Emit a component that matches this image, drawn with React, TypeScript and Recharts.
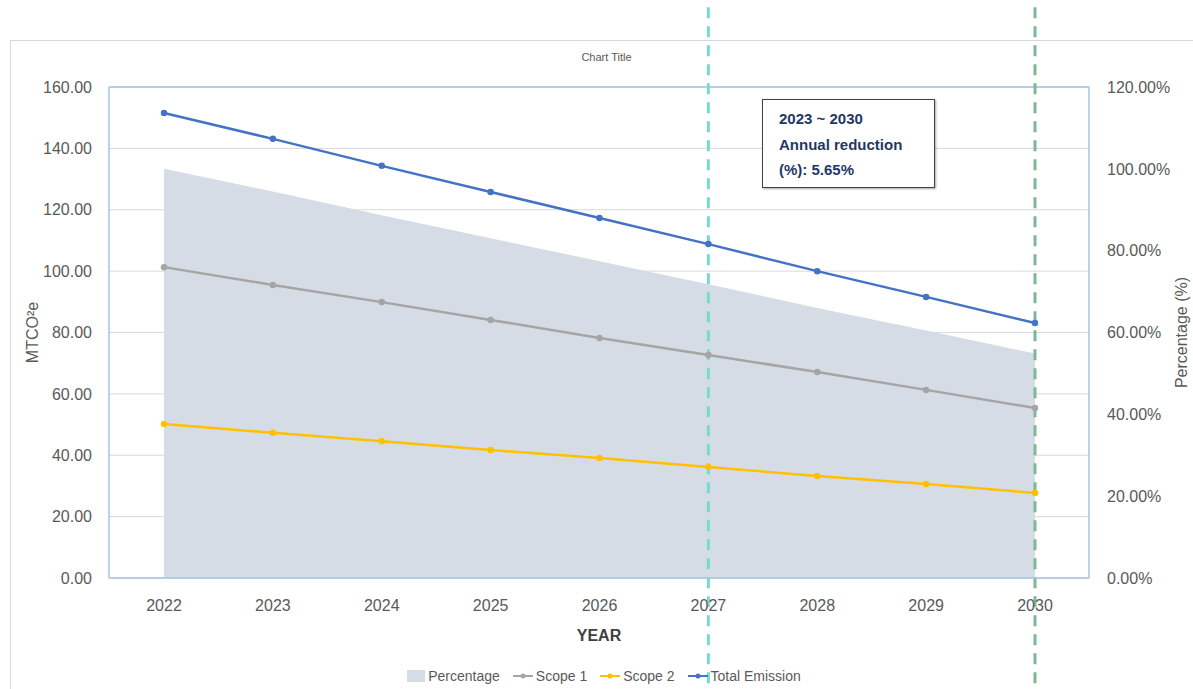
import React from 'react';
import {
  ComposedChart,
  Line,
  Area,
  XAxis,
  YAxis,
  CartesianGrid,
  ReferenceLine,
  Legend,
} from 'recharts';

const years = ['2022', '2023', '2024', '2025', '2026', '2027', '2028', '2029', '2030'];
const totalEmission = [151.5, 143.1, 134.3, 125.8, 117.3, 108.8, 100.0, 91.6, 83.1];
const scope1 = [101.3, 95.5, 89.9, 84.1, 78.2, 72.7, 67.1, 61.3, 55.4];
const scope2 = [50.2, 47.3, 44.6, 41.7, 39.1, 36.2, 33.2, 30.6, 27.7];
const percentage = [1.0, 0.9446, 0.8865, 0.8304, 0.7743, 0.7182, 0.6601, 0.6046, 0.5485];
const leftTicks = [0, 20, 40, 60, 80, 100, 120, 140, 160];
const rightTicks = [0, 0.2, 0.4, 0.6, 0.8, 1.0, 1.2];
const markerYears = ['2027', '2030'];
const annotationLines = ['2023 ~ 2030', 'Annual reduction', '(%): 5.65%'];

const data = years.map((y, i) => ({
  year: y,
  total: totalEmission[i],
  scope1: scope1[i],
  scope2: scope2[i],
  pct: percentage[i],
}));

const FONT = '"Liberation Sans", Arial, sans-serif';
const TEXT = '#595959';
const BLUE_AXIS = '#a3c4e6';

const legendItems = [
  { name: 'Percentage', color: '#d6dce5', type: 'area' },
  { name: 'Scope 1', color: '#a5a5a5', type: 'line' },
  { name: 'Scope 2', color: '#ffc000', type: 'line' },
  { name: 'Total Emission', color: '#4472c4', type: 'line' },
];

const LegendContent = () => (
  <div
    style={{
      display: 'flex',
      justifyContent: 'center',
      alignItems: 'center',
      gap: 8,
      fontFamily: FONT,
      fontSize: 14,
      color: TEXT,
      paddingLeft: 18,
      paddingTop: 4,
    }}
  >
    {legendItems.map((it) => (
      <div key={it.name} style={{ display: 'flex', alignItems: 'center', marginRight: 4 }}>
        {it.type === 'area' ? (
          <svg width={20} height={14} style={{ marginRight: 2 }}>
            <rect x={1} y={1} width={18} height={12} fill={it.color} />
          </svg>
        ) : (
          <svg width={22} height={14} style={{ marginRight: 2 }}>
            <line x1={1} y1={7} x2={21} y2={7} stroke={it.color} strokeWidth={2} />
            <circle cx={11} cy={7} r={2.5} fill={it.color} />
          </svg>
        )}
        <span>{it.name}</span>
      </div>
    ))}
  </div>
);

export default function App() {
  return (
    <div
      style={{
        position: 'absolute',
        left: 0,
        top: 0,
        width: 1193,
        height: 689,
        overflow: 'hidden',
        background: '#ffffff',
        fontFamily: FONT,
      }}
    >
      <div
        style={{
          position: 'absolute',
          left: 10,
          top: 40,
          width: 1200,
          height: 700,
          border: '1px solid #d9d9d9',
          boxSizing: 'border-box',
        }}
      />
      <div
        style={{
          position: 'absolute',
          left: 0,
          top: 51,
          width: 1213,
          textAlign: 'center',
          fontSize: 11,
          color: TEXT,
        }}
      >
        Chart Title
      </div>
      <div style={{ position: 'absolute', left: 0, top: 0 }}>
        <ComposedChart
          width={1193}
          height={689}
          data={data}
          margin={{ top: 87, right: 0, bottom: 3, left: 0 }}
        >
          <CartesianGrid vertical={false} stroke="#d9d9d9" yAxisId="left" />
          <XAxis
            dataKey="year"
            height={86}
            padding={{ left: 55, right: 54 }}
            tickLine={false}
            axisLine={{ stroke: BLUE_AXIS, strokeWidth: 1.5 }}
            tick={{ fill: TEXT, fontSize: 16, fontFamily: FONT }}
            tickMargin={16}
            label={{
              value: 'YEAR',
              position: 'insideBottom',
              offset: 23,
              fill: '#404040',
              fontSize: 16,
              fontWeight: 'bold',
              fontFamily: FONT,
            }}
          />
          <YAxis
            yAxisId="left"
            width={109}
            domain={[0, 160]}
            ticks={leftTicks}
            tickLine={false}
            axisLine={{ stroke: BLUE_AXIS, strokeWidth: 1.5 }}
            tickMargin={11}
            tick={{ fill: TEXT, fontSize: 16, fontFamily: FONT }}
            tickFormatter={(v: number) => v.toFixed(2)}
            label={{
              value: 'MTCO²e',
              angle: -90,
              position: 'insideLeft',
              offset: 32,
              fill: TEXT,
              fontSize: 16,
              fontFamily: FONT,
              style: { textAnchor: 'middle' },
            }}
          />
          <YAxis
            yAxisId="right"
            orientation="right"
            width={104}
            domain={[0, 1.2]}
            ticks={rightTicks}
            tickLine={false}
            axisLine={{ stroke: BLUE_AXIS, strokeWidth: 1.5 }}
            tickMargin={12}
            tick={{ fill: TEXT, fontSize: 16, fontFamily: FONT }}
            tickFormatter={(v: number) => (v * 100).toFixed(2) + '%'}
            label={{
              value: 'Percentage (%)',
              angle: -90,
              position: 'insideRight',
              offset: 12,
              fill: TEXT,
              fontSize: 16,
              fontFamily: FONT,
              style: { textAnchor: 'middle' },
            }}
          />
          <ReferenceLine yAxisId="left" y={160} stroke={BLUE_AXIS} strokeWidth={1.5} />
          <Area
            yAxisId="right"
            type="linear"
            dataKey="pct"
            name="Percentage"
            stroke="none"
            fill="#d6dce5"
            fillOpacity={1}
            isAnimationActive={false}
          />
          <Line
            yAxisId="left"
            type="linear"
            dataKey="scope1"
            name="Scope 1"
            stroke="#a5a5a5"
            strokeWidth={2.5}
            dot={{ r: 2, fill: '#a5a5a5', stroke: '#a5a5a5' }}
            isAnimationActive={false}
          />
          <Line
            yAxisId="left"
            type="linear"
            dataKey="scope2"
            name="Scope 2"
            stroke="#ffc000"
            strokeWidth={2.5}
            dot={{ r: 2, fill: '#ffc000', stroke: '#ffc000' }}
            isAnimationActive={false}
          />
          <Line
            yAxisId="left"
            type="linear"
            dataKey="total"
            name="Total Emission"
            stroke="#4472c4"
            strokeWidth={2.5}
            dot={{ r: 2, fill: '#4472c4', stroke: '#4472c4' }}
            isAnimationActive={false}
          />
          <ReferenceLine
            yAxisId="left"
            ifOverflow="visible"
            segment={[
              { x: markerYears[0], y: 186 },
              { x: markerYears[0], y: -40 },
            ]}
            stroke="#74dccf"
            strokeWidth={3}
            strokeDasharray="11 8"
          />
          <ReferenceLine
            yAxisId="left"
            ifOverflow="visible"
            segment={[
              { x: markerYears[1], y: 186 },
              { x: markerYears[1], y: -40 },
            ]}
            stroke="#7fb894"
            strokeWidth={3}
            strokeDasharray="11 8"
          />
          <Legend verticalAlign="bottom" height={22} content={<LegendContent />} />
        </ComposedChart>
      </div>
      <div
        style={{
          position: 'absolute',
          left: 762,
          top: 99,
          width: 173,
          height: 89,
          boxSizing: 'border-box',
          border: '1.5px solid #404040',
          background: '#ffffff',
          boxShadow: '1px 1px 2px rgba(0,0,0,0.35)',
          padding: '6px 0 0 16px',
          color: '#1f3864',
          fontWeight: 'bold',
          fontSize: 15,
          lineHeight: '25.5px',
        }}
      >
        {annotationLines.map((l) => (
          <div key={l}>{l}</div>
        ))}
      </div>
    </div>
  );
}
